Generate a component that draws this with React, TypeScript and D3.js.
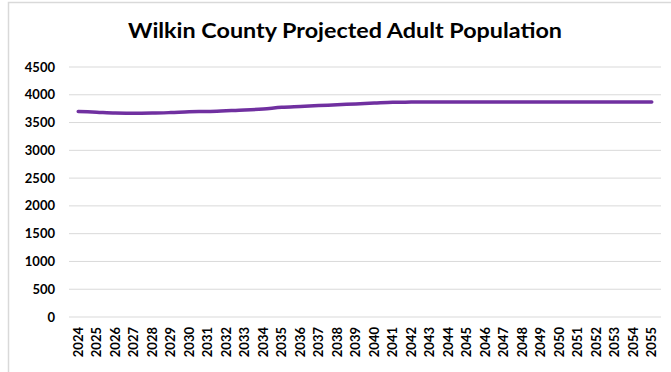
import React from "react";
import * as d3 from "d3";

const years: string[] = [
  "2024","2025","2026","2027","2028","2029","2030","2031","2032","2033","2034","2035","2036","2037","2038","2039",
  "2040","2041","2042","2043","2044","2045","2046","2047","2048","2049","2050","2051","2052","2053","2054","2055",
];
const population: number[] = [
  3700, 3685, 3670, 3668, 3670, 3680, 3695, 3700, 3712, 3725, 3745, 3775, 3790, 3805, 3820, 3835,
  3850, 3865, 3868, 3868, 3868, 3868, 3868, 3868, 3868, 3868, 3868, 3868, 3868, 3868, 3868, 3868,
];
const yTicks: number[] = [0, 500, 1000, 1500, 2000, 2500, 3000, 3500, 4000, 4500];
const title = "Wilkin County Projected Adult Population";

const W = 671;
const H = 372;
const FONT = "Lato, 'DejaVu Sans', sans-serif";

export default function App() {
  const x = d3.scaleBand<string>().domain(years).range([69, 661]);
  const y = d3.scaleLinear().domain([0, 4500]).range([317, 67]);
  const line = d3
    .line<number>()
    .x((_, i) => (x(years[i]) as number) + x.bandwidth() / 2)
    .y((d) => y(d))
    .curve(d3.curveMonotoneX);

  return (
    <svg
      width={W}
      height={H}
      style={{ position: "absolute", left: 0, top: 0, background: "#fff" }}
    >
      <rect x={8.5} y={2.5} width={W} height={H} fill="#fff" stroke="#d9d9d9" strokeWidth={1.5} />
      <text
        x={128}
        y={38}
        textLength={434}
        lengthAdjust="spacingAndGlyphs"
        fontFamily={FONT}
        fontWeight={700}
        fontSize={21}
        fill="#000"
      >
        {title}
      </text>
      {yTicks.map((t) => (
        <g key={t}>
          <line x1={69} x2={661} y1={y(t)} y2={y(t)} stroke="#d9d9d9" strokeWidth={1} />
          <text
            x={55}
            y={y(t)}
            dy="0.35em"
            textAnchor="end"
            fontFamily={FONT}
            fontWeight={700}
            fontSize={13}
            fill="#000"
          >
            {t}
          </text>
        </g>
      ))}
      {years.map((yr) => {
        const cx = (x(yr) as number) + x.bandwidth() / 2;
        return (
          <text
            key={yr}
            transform={`translate(${cx},327) rotate(-90)`}
            dy="0.35em"
            textAnchor="end"
            fontFamily={FONT}
            fontWeight={700}
            fontSize={13}
            fill="#000"
          >
            {yr}
          </text>
        );
      })}
      <path
        d={line(population) || ""}
        fill="none"
        stroke="#7030a0"
        strokeWidth={3.5}
        strokeLinecap="round"
        strokeLinejoin="round"
      />
    </svg>
  );
}
